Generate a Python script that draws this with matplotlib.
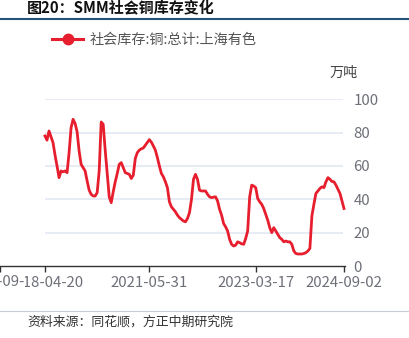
import matplotlib
matplotlib.use("Agg")
import matplotlib.pyplot as plt
from matplotlib.lines import Line2D
from matplotlib.patches import Rectangle
from matplotlib.transforms import Bbox

plt.rcParams['font.family'] = ['Noto Sans CJK SC', 'DejaVu Sans']

# Weekly copper social inventory (10k tonnes), evenly spaced categories
inventory = [
    78, 75.5, 81, 77.5, 74, 66.5, 60, 53, 57, 56.5,
    57, 56, 68, 83, 88, 85.5, 80.5, 69, 61, 59,
    57, 51, 45.5, 43, 42, 42, 44, 57, 86.4, 85,
    69.5, 55.5, 41.5, 38, 44.5, 50.5, 55.5, 61, 62, 59,
    56, 55.5, 55, 52.5, 54.5, 64.5, 68, 69.5, 70.3, 70.8,
    72.5, 74.3, 75.8, 74.3, 72, 69.5, 65, 60, 55.5, 53.5,
    50.5, 47, 38.5, 35.5, 34, 32.5, 30.5, 29, 28, 27,
    26.5, 28.5, 32, 40, 52, 55, 52, 45.5, 45, 45,
    45, 43, 41.5, 41, 41.3, 41.5, 39, 34, 30.5, 25.5,
    23.5, 21, 16, 13, 12, 12.5, 14.5, 14, 13.3, 13,
    16.5, 21, 41.5, 48.5, 48, 47, 40.5, 38.5, 37, 34.5,
    31, 27.5, 23, 20, 23, 21, 19, 17, 16, 14.5,
    15, 14.5, 14.5, 13, 9, 7.5, 7.2, 7.2, 7.2, 7.5,
    8, 9, 10.5, 30, 37, 43.5, 45, 46.5, 47.5, 47,
    50.5, 53, 52, 50.7, 50.5, 48.5, 46, 43.5, 39, 34.5,
]
tick_index = [-22.2, 0, 52, 105, 149]
tick_labels = ['', '2018-04-20', '2021-05-31', '2023-03-17', '2024-09-02']
neighbour_label = '2024-09-02'
y_ticks = [0, 20, 40, 60, 80, 100]
series_name = '社会库存:铜:总计:上海有色'

RED = '#e61e2d'
GRAY = '#6e7079'
W, H = 410, 338
fig = plt.figure(figsize=(W / 100, H / 100), dpi=100)

# plot area: category 0 sits 45 px in from the left edge
ax = fig.add_axes([0, 72 / H, 345 / W, 166.7 / H])
n = len(inventory)
step = 299 / (n - 1)
ax.set_xlim(-45 / step, (n - 1) + 1 / step)
ax.set_ylim(0, 100)

ax.hlines([20, 40, 60, 80, 100], 0, (343 - 45) / step, colors='#e0e6f1', lw=1.1, zorder=1)
ax.plot(range(n), inventory, color=RED, lw=2.0, zorder=3, clip_on=False,
        solid_joinstyle='round')

for s in ['top', 'left', 'right']:
    ax.spines[s].set_visible(False)
ax.spines['bottom'].set_color('#333333')
ax.spines['bottom'].set_linewidth(1.0)

ax.set_xticks(tick_index, labels=tick_labels)
ax.tick_params(axis='x', direction='out', length=4, width=1.0, color='#333333',
               labelsize=10.8, labelcolor=GRAY, pad=3)
ax.yaxis.tick_right()
ax.set_yticks(y_ticks, labels=[str(v) for v in y_ticks])
ax.tick_params(axis='y', length=0, pad=6, labelsize=10.8, labelcolor=GRAY)
for lbl in ax.get_yticklabels():
    lbl.set_horizontalalignment('left')

# neighbouring panel's last date label, cut at its panel edge
fig.add_artist(Rectangle((0, 1 - 292 / H), 25 / W, 19 / H, transform=fig.transFigure,
                         facecolor='white', edgecolor='none', zorder=2))
edge = fig.text(-36 / W, 1 - 282 / H, neighbour_label, fontsize=10.8, color=GRAY,
                ha='left', va='center', zorder=3)
edge.set_clip_box(Bbox.from_extents(0, 0, 25, H))
edge.set_clip_on(True)

# title and rule
fig.text(27 / W, 1 - 8.5 / H, '图20：SMM社会铜库存变化', fontsize=10.8, fontweight='bold',
         color='#111111', va='center', ha='left')
fig.add_artist(Line2D([0, 1], [1 - 19 / H, 1 - 19 / H], color='#24527a', lw=1.5))

# legend
handle = Line2D([], [], color=RED, lw=2.2, marker='o', markersize=7.5,
                markerfacecolor=RED, markeredgecolor=RED)
fig.legend([handle], [series_name], loc='center left',
           bbox_to_anchor=(52 / W, 1 - 40 / H), frameon=False, borderpad=0,
           borderaxespad=0, handlelength=2.2, handletextpad=0.45,
           prop={'size': 10.2}, labelcolor='#555555')

fig.text(344 / W, 1 - 73 / H, '万吨', fontsize=10.2, color='#444444',
         ha='center', va='center')

# footer
fig.add_artist(Line2D([0, 1], [1 - 311 / H, 1 - 311 / H], color='#c8ccd4', lw=0.8))
fig.text(27 / W, 1 - 322 / H, '资料来源：同花顺，方正中期研究院', fontsize=9.3,
         color='#333333', style='italic', ha='left', va='center')

fig.savefig('out.png', dpi=100)
